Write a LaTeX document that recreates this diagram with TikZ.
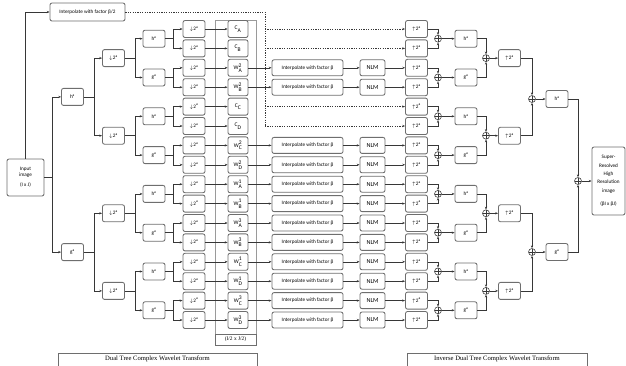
\documentclass[tikz,border=0pt]{standalone}
\usepackage{fontspec}
\setmainfont{Carlito}
\newfontfamily\serifb{Liberation Serif}
\usetikzlibrary{arrows.meta}
\definecolor{boxc}{RGB}{110,110,110}
\definecolor{linec}{RGB}{55,55,55}
\begin{document}
\begin{tikzpicture}[x=1pt,y=-1pt,
  every node/.style={font=\fontsize{5.2}{6}\selectfont},
  box/.style={draw=boxc, line width=0.85pt, rounded corners=2pt, fill=white, inner sep=0.5pt, align=center},
  sbox/.style={box, minimum width=22pt, minimum height=17pt},
  wbox/.style={box, minimum width=20pt, minimum height=17pt, font=\fontsize{5.6}{6}\selectfont},
  ibox/.style={box, minimum width=71pt, minimum height=16pt},
  nbox/.style={box, minimum width=25pt, minimum height=16pt, font=\fontsize{6.2}{7}\selectfont},
  ln/.style={draw=linec, line width=0.6pt},
  arr/.style={ln, -{Stealth[length=2.8pt,width=2.2pt]}},
  dshl/.style={ln, dash pattern=on 1.2pt off 1.2pt},
  dsh/.style={arr, dash pattern=on 1.2pt off 1.2pt},
  oplus/.style={circle, draw=linec, line width=0.55pt, fill=white, inner sep=0pt, minimum size=7pt,
    path picture={\draw[linec,line width=0.45pt] (path picture bounding box.north) -- (path picture bounding box.south) (path picture bounding box.west) -- (path picture bounding box.east);}},
  titlebox/.style={draw=boxc, line width=1pt, anchor=north, text height=5pt, text depth=13pt, inner ysep=2pt, font=\serifb\fontsize{6.6}{7}\selectfont},
]
\useasboundingbox (0,0) rectangle (626,365);

% coefficient column frame
\draw[boxc!70, line width=0.7pt] (215,20) rectangle (256,334);
\node[draw=boxc, line width=0.7pt, minimum width=41pt, minimum height=11pt, inner sep=0pt, font=\serifb\fontsize{5.4}{6}\selectfont] (dim) at (235.5,339.5) {(I/2 x J/2)};

% input and beta/2 interpolation
\node[box, minimum width=37pt, minimum height=37pt] (in) at (25.5,177.5) {Input\\image\\[4pt](I x J)};
\node[box, minimum width=75pt, minimum height=18pt] (ib) at (87.5,12) {Interpolate with factor β/2};
\draw[arr] (in.north) |- (ib.west);

% analysis tree
\node[sbox] (h0) at (72.5,96.9) {h\textsuperscript{a}};
\node[sbox] (g0) at (72.5,252.1) {g\textsuperscript{a}};
\draw[arr] (in.east) -- ++(8,0) |- (h0.west);
\draw[arr] (in.east) -- ++(8,0) |- (g0.west);

\foreach \k/\yy in {0/58.1,1/135.7,2/213.3,3/290.9}{
  \node[sbox] (da\k) at (113.5,\yy) {$\downarrow$2\textsuperscript{a}};
}
\draw[arr] (h0.east) -- ++(10,0) |- (da0.west);
\draw[arr] (h0.east) -- ++(10,0) |- (da1.west);
\draw[arr] (g0.east) -- ++(10,0) |- (da2.west);
\draw[arr] (g0.east) -- ++(10,0) |- (da3.west);

\foreach \j/\L in {0/h,1/g,2/h,3/g,4/h,5/g,6/h,7/g}{
  \pgfmathsetmacro\yy{29+19.4*(2*\j+0.5)}
  \pgfmathtruncatemacro\k{div(\j,2)}
  \node[sbox] (p\j) at (154,\yy) {\L\textsuperscript{a}};
  \draw[arr] (da\k.east) -- ++(10,0) |- (p\j.west);
}

% rows
\foreach \i/\L/\s/\p in {0/C/A/{},1/C/B/{},2/W/A/2,3/W/B/2,4/C/C/{},5/C/D/{},6/W/C/2,7/W/D/2,
  8/W/A/1,9/W/B/1,10/W/A/3,11/W/B/3,12/W/C/1,13/W/D/1,14/W/C/3,15/W/D/3}{
  \pgfmathsetmacro\yy{29+19.4*\i}
  \pgfmathtruncatemacro\j{div(\i,2)}
  \node[sbox] (d\i) at (194,\yy) {$\downarrow$2\textsuperscript{a}};
  \node[wbox] (w\i) at (238,\yy) {\L$_{\textrm{\s}}^{\textrm{\p}}$};
  \node[sbox] (u\i) at (416.5,\yy) {$\uparrow$2\textsuperscript{a}};
  \draw[arr] (p\j.east) -- ++(8,0) |- (d\i.west);
  \draw[arr] (d\i) -- (w\i);
}
\foreach \i in {2,3,6,7,8,9,10,11,12,13,14,15}{
  \pgfmathsetmacro\yy{29+19.4*\i}
  \node[ibox] (ip\i) at (307.5,\yy) {Interpolate with factor β};
  \node[nbox] (n\i) at (372.5,\yy) {NLM};
  \draw[arr] (w\i) -- (ip\i);
  \draw[arr] (ip\i) -- (n\i);
  \draw[arr] (n\i) -- (u\i);
}

% dashed bypass of the low-pass images
\coordinate (dt) at (265,12);
\coordinate (dv) at (265,126);
\draw[dshl] (ib.east) -- (dt) -- (dv);
\foreach \i in {0,1,4,5}{
  \draw[dsh] (dv |- u\i.west) -- (u\i.west);
}

% synthesis tree
\foreach \j/\L in {0/h,1/g,2/h,3/g,4/h,5/g,6/h,7/g}{
  \pgfmathsetmacro\yy{29+19.4*(2*\j+0.5)}
  \pgfmathtruncatemacro\a{2*\j}
  \pgfmathtruncatemacro\b{2*\j+1}
  \node[oplus] (oa\j) at (438,\yy) {};
  \node[sbox] (ra\j) at (466,\yy) {\L\textsuperscript{a}};
  \draw[arr] (u\a.east) -| (oa\j.north);
  \draw[arr] (u\b.east) -| (oa\j.south);
  \draw[arr] (oa\j) -- (ra\j);
}
\foreach \k/\yy in {0/58.1,1/135.7,2/213.3,3/290.9}{
  \pgfmathtruncatemacro\a{2*\k}
  \pgfmathtruncatemacro\b{2*\k+1}
  \node[oplus] (ob\k) at (486,\yy) {};
  \node[sbox] (ub\k) at (509.5,\yy) {$\uparrow$2\textsuperscript{a}};
  \draw[arr] (ra\a.east) -| (ob\k.north);
  \draw[arr] (ra\b.east) -| (ob\k.south);
  \draw[arr] (ob\k) -- (ub\k);
}
\node[oplus] (oc0) at (532,99) {};
\node[oplus] (oc1) at (532,252) {};
\node[sbox] (rc0) at (557,99) {h\textsuperscript{a}};
\node[sbox] (rc1) at (557,252) {g\textsuperscript{a}};
\draw[arr] (ub0.east) -| (oc0.north);
\draw[arr] (ub1.east) -| (oc0.south);
\draw[arr] (ub2.east) -| (oc1.north);
\draw[arr] (ub3.east) -| (oc1.south);
\draw[arr] (oc0) -- (rc0);
\draw[arr] (oc1) -- (rc1);

\node[oplus] (of) at (578,181) {};
\node[box, minimum width=33pt, minimum height=68pt, font=\fontsize{5.2}{8.3}\selectfont] (out) at (608.5,181) {Super-\\Resolved\\High\\Resolution\\image\\[5pt](βI x βJ)};
\draw[arr] (rc0.east) -| (of.north);
\draw[arr] (rc1.east) -| (of.south);
\draw[arr] (of) -- (out);

% titles
\node[titlebox, minimum width=199pt] (tdt) at (157.5,353) {Dual Tree Complex Wavelet Transform};
\node[titlebox, minimum width=180pt] (tidt) at (497,353) {Inverse Dual Tree Complex Wavelet Transform};
\end{tikzpicture}
\end{document}
